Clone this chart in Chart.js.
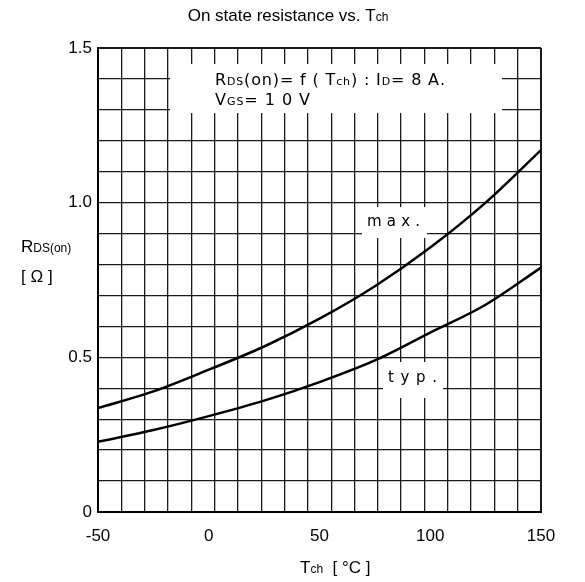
<!DOCTYPE html>
<html>
<head>
<meta charset="utf-8">
<title>On state resistance vs. Tch</title>
<script src="https://cdn.jsdelivr.net/npm/chart.js@4/dist/chart.umd.min.js"></script>
<style>
  html, body { margin: 0; padding: 0; background: #fff; }
</style>
</head>
<body>
<canvas id="rdsChart" width="585" height="582"></canvas>
<script>
// channel temperature (°C)
const tch = [-50, -25, 0, 25, 50, 75, 100, 125, 150];
// RDS(on) in ohm
const rdsMax = [0.336, 0.39, 0.46, 0.535, 0.625, 0.73, 0.855, 1.0, 1.17];
const rdsTyp = [0.227, 0.265, 0.31, 0.36, 0.42, 0.49, 0.58, 0.67, 0.79];
// labelled ticks
const xTickLabels = [-50, 0, 50, 100, 150];
const yTickLabels = [0, 0.5, 1.0, 1.5];
// the scanned sheet has 19 vertical grid columns, 15 horizontal rows
const xGridColumns = 19;

const LABEL_FONT = '"Liberation Sans", Arial, sans-serif';
const NOTE_FONT = '"DejaVu Sans", sans-serif';

// draws a run of [text, size] parts, optionally stretched to a given width
function drawRun(ctx, parts, x, y, fam, width) {
    let natural = 0, n = 0;
    parts.forEach(([t, s]) => {
        ctx.font = s + 'px ' + fam;
        for (const ch of t) { natural += ctx.measureText(ch).width; n++; }
    });
    const gap = width ? (width - natural) / Math.max(n - 1, 1) : 0;
    let cx = x;
    parts.forEach(([t, s]) => {
        ctx.font = s + 'px ' + fam;
        for (const ch of t) {
            ctx.fillText(ch, cx, y);
            cx += ctx.measureText(ch).width + gap;
        }
    });
    return natural;
}

function runWidth(ctx, parts, fam) {
    let w = 0;
    parts.forEach(([t, s]) => {
        ctx.font = s + 'px ' + fam;
        for (const ch of t) w += ctx.measureText(ch).width;
    });
    return w;
}

// white patches behind the in-plot notes, like the datasheet
const notesPlugin = {
    id: 'notes',
    beforeDatasetsDraw(chart) {
        const ctx = chart.ctx;
        ctx.save();
        ctx.fillStyle = '#fff';
        ctx.fillRect(170, 64, 332, 49);
        ctx.fillRect(362, 207, 65, 31);
        ctx.fillRect(383, 362, 60, 36);

        ctx.fillStyle = '#000';
        ctx.textBaseline = 'alphabetic';
        drawRun(ctx, [['R', 16], ['DS', 11], ['(on)= f ( T', 16], ['ch', 11], [') : I', 16], ['D', 11], ['= 8 A.', 16]],
            215, 85, NOTE_FONT, 230);
        drawRun(ctx, [['V', 16], ['GS', 11], ['= 1 0 V', 16]], 215, 105, NOTE_FONT, 95);
        drawRun(ctx, [['max.', 15]], 367, 226, NOTE_FONT, 53);
        drawRun(ctx, [['typ.', 15]], 388, 382, NOTE_FONT, 49);
        ctx.restore();
    },
    afterDraw(chart) {
        const ctx = chart.ctx;
        ctx.save();
        ctx.fillStyle = '#000';
        ctx.textBaseline = 'alphabetic';
        // title
        const title = [['On state resistance vs. T', 17], ['ch', 12]];
        const tw = runWidth(ctx, title, LABEL_FONT);
        drawRun(ctx, title, 288 - tw / 2, 21, LABEL_FONT);
        // y axis title
        drawRun(ctx, [['R', 17], ['DS(on)', 12]], 21, 252, LABEL_FONT);
        drawRun(ctx, [['[ Ω ]', 17]], 21, 282, LABEL_FONT);
        // x axis title
        drawRun(ctx, [['T', 17], ['ch', 12], ['  [ °C ]', 17]], 300, 573, LABEL_FONT);
        ctx.restore();
    }
};

function toPoints(xs, ys) {
    return xs.map((x, i) => ({ x: x, y: ys[i] }));
}

const gridColor = '#1a1a1a';

new Chart(document.getElementById('rdsChart'), {
    type: 'line',
    data: {
        datasets: [
            {
                label: 'max.',
                data: toPoints(tch, rdsMax),
                borderColor: '#000',
                borderWidth: 2.5,
                pointRadius: 0,
                fill: false,
                cubicInterpolationMode: 'monotone'
            },
            {
                label: 'typ.',
                data: toPoints(tch, rdsTyp),
                borderColor: '#000',
                borderWidth: 2.5,
                pointRadius: 0,
                fill: false,
                cubicInterpolationMode: 'monotone'
            }
        ]
    },
    options: {
        responsive: false,
        animation: false,
        layout: { padding: { top: 48, right: 44, bottom: 0, left: 0 } },
        plugins: {
            legend: { display: false },
            tooltip: { enabled: false },
            title: { display: false }
        },
        scales: {
            x: {
                type: 'linear',
                min: -50,
                max: 150,
                afterFit: function(scale) { scale.height = 70; },
                ticks: {
                    stepSize: 50,
                    autoSkip: false,
                    maxRotation: 0,
                    padding: 14,
                    color: '#000',
                    font: { family: LABEL_FONT, size: 17 },
                    callback: function(value) {
                        return xTickLabels.includes(value) ? String(value) : '';
                    }
                },
                grid: { display: false, drawTicks: false },
                border: { color: '#000', width: 2 }
            },
            // grid-only axis for the sheet's vertical rulings
            xGrid: {
                type: 'linear',
                position: 'bottom',
                min: 0,
                max: xGridColumns,
                afterFit: function(scale) { scale.height = 0; },
                ticks: { display: false, stepSize: 1 },
                grid: {
                    color: gridColor,
                    lineWidth: ctx => (ctx.tick && ctx.tick.value === xGridColumns ? 2 : 1.3),
                    drawTicks: false
                },
                border: { display: false }
            },
            y: {
                min: 0,
                max: 1.5,
                afterFit: function(scale) { scale.width = 98; },
                ticks: {
                    stepSize: 0.1,
                    autoSkip: false,
                    padding: 6,
                    color: '#000',
                    font: { family: LABEL_FONT, size: 17 },
                    callback: function(value) {
                        const hit = yTickLabels.find(v => Math.abs(v - value) < 1e-6);
                        if (hit === undefined) return '';
                        return hit === 0 ? '0' : hit.toFixed(1);
                    }
                },
                grid: {
                    color: gridColor,
                    lineWidth: ctx => (ctx.tick && Math.abs(ctx.tick.value - 1.5) < 1e-6 ? 2 : 1.3),
                    drawTicks: false
                },
                border: { color: '#000', width: 2 }
            }
        }
    },
    plugins: [notesPlugin]
});
</script>
</body>
</html>
